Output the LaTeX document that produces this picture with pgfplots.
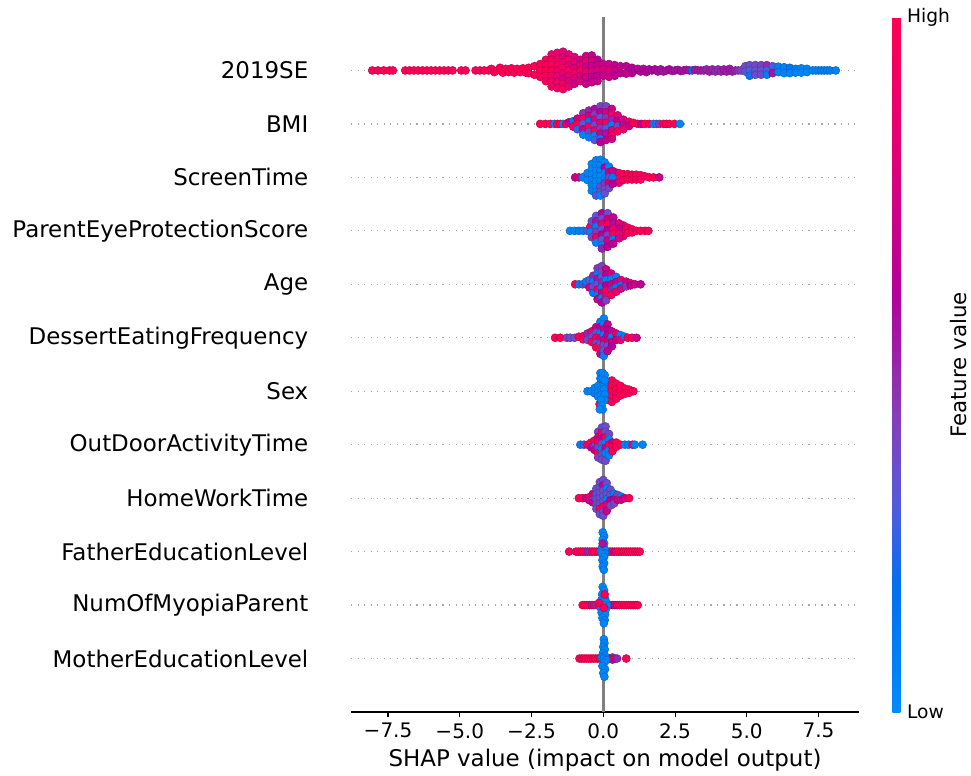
\documentclass[border=0pt]{standalone}
\usepackage{fontspec}
\setmainfont{DejaVu Sans}
\usepackage{pgfplots}
\pgfplotsset{compat=1.18}
% 1 px of the reference = 0.75pt here
\pgfplotsset{
  swarm/.style={scatter,only marks,scatter src=explicit,mark=*,mark size=3pt},
  colormap={shap}{rgb255(0cm)=(0,139,251); rgb255(18cm)=(0,112,240); rgb255(30cm)=(85,90,220);
    rgb255(43cm)=(135,60,185); rgb255(60cm)=(180,0,155); rgb255(80cm)=(225,0,120); rgb255(100cm)=(255,0,82)},
}
\begin{document}
\begin{tikzpicture}
\useasboundingbox (0,0) rectangle (728.25pt,581.25pt);
\begin{axis}[
  at={(263.25pt,47.25pt)}, anchor=south west,
  scale only axis, width=381pt, height=521.25pt,
  xmin=-8.79, xmax=8.91, ymin=-1, ymax=12,
  axis x line*=bottom, axis y line*=left,
  y axis line style={draw=none},
  x axis line style={line width=1pt,-},
  xtick={-7.5,-5,-2.5,0,2.5,5,7.5},
  xticklabels={−7.5,−5.0,−2.5,0.0,2.5,5.0,7.5},
  xtick style={black,line width=.8pt},
  tick align=outside, major tick length=4pt,
  xticklabel style={font=\fontsize{15}{16}\selectfont,yshift=-1pt},
  xlabel={SHAP value (impact on model output)},
  xlabel style={font=\fontsize{17.2}{18}\selectfont,yshift=-1pt},
  ytick={0,...,11},
  yticklabels={MotherEducationLevel,NumOfMyopiaParent,FatherEducationLevel,HomeWorkTime,OutDoorActivityTime,Sex,DessertEatingFrequency,Age,ParentEyeProtectionScore,ScreenTime,BMI,2019SE},
  yticklabel style={font=\fontsize{17.2}{18}\selectfont,anchor=east,xshift=-24.5pt},
  ytick style={draw=none},
  ymajorgrids,
  grid style={dash pattern=on .9pt off 4pt,gray!70,line width=.9pt},
  colormap name=shap,
  point meta min=0, point meta max=100,
  colorbar,
  colorbar style={
    at={(parent axis.south east)}, anchor=south west, xshift=16.5pt,
    width=6pt,
    axis line style={draw=none},
    ytick={0,100}, yticklabels={Low,High},
    ytick style={draw=none},
    yticklabel style={font=\fontsize{14}{15}\selectfont,xshift=1.5pt},
  },
]
\addplot[gray,line width=2.2pt,forget plot] coordinates {(0,-1) (0,12)};

% 2019SE
\addplot[swarm] table[meta=c,row sep=\\]{x y c\\
-8.05 11 98\\ -7.85 11 98\\ -7.65 11 98\\ -7.45 11 98\\ -7.33 11 98\\
-6.9 11 98\\ -6.75 11 98\\ -6.6 11 98\\ -6.45 11 98\\ -6.3 11 98\\ -6.15 11 98\\ -6.0 11 98\\ -5.85 11 98\\ -5.7 11 98\\ -5.55 11 98\\ -5.4 11 98\\ -5.25 11 98\\
-4.95 11 98\\ -4.8 11 98\\ -4.45 11 98\\ -4.3 11 98\\ -4.15 11 98\\
-4.0 11 98\\ -3.9 11.03 98\\ -3.8 10.97 98\\ -3.7 11 98\\ -3.6 11.05 98\\ -3.5 10.96 98\\ -3.4 11.03 98\\ -3.3 10.97 98\\ -3.2 11.04 98\\ -3.1 10.96 98\\ -3 11.03 96\\ -2.9 10.97 98\\ -2.8 11.04 98\\ -2.7 10.96 98\\
-2.6 11.05 98\\ -2.6 10.95 96\\ -2.4 11.08 98\\ -2.4 10.92 97\\ -2.2 11.12 96\\ -2.2 11 98\\ -2.2 10.88 95\\
-2 11.2 92\\ -2 11.1 96\\ -2 11 98\\ -2 10.9 96\\ -2 10.8 94\\
-1.8 11.3 88\\ -1.8 11.2 92\\ -1.8 11.1 96\\ -1.8 11 98\\ -1.8 10.9 92\\ -1.8 10.8 88\\ -1.8 10.7 94\\
-1.6 11.33 82\\ -1.6 11.22 90\\ -1.6 11.1 94\\ -1.6 11 90\\ -1.6 10.9 84\\ -1.6 10.78 92\\ -1.6 10.67 86\\
-1.4 11.35 84\\ -1.4 11.25 78\\ -1.4 11.15 88\\ -1.4 11.05 92\\ -1.4 10.95 84\\ -1.4 10.85 76\\ -1.4 10.75 90\\ -1.4 10.65 94\\
-1.2 11.3 80\\ -1.2 11.2 88\\ -1.2 11.1 78\\ -1.2 11 95\\ -1.2 10.9 82\\ -1.2 10.8 76\\ -1.2 10.7 84\\
-1 11.25 78\\ -1 11.15 84\\ -1 11.05 76\\ -1 10.95 90\\ -1 10.85 80\\ -1 10.75 72\\
-.8 11.2 74\\ -.8 11.1 80\\ -.8 11 92\\ -.8 10.9 74\\ -.8 10.8 78\\
-.6 11.27 72\\ -.6 11.17 82\\ -.6 11.07 70\\ -.6 10.97 86\\ -.6 10.87 74\\ -.6 10.75 68\\
-.4 11.28 66\\ -.4 11.18 74\\ -.4 11.08 68\\ -.4 10.98 78\\ -.4 10.88 66\\ -.4 10.78 70\\
-.2 11.2 64\\ -.2 11.1 70\\ -.2 11 76\\ -.2 10.9 66\\ -.2 10.8 68\\
0 11.12 68\\ 0 11.02 74\\ 0 10.9 68\\ .2 11.12 70\\ .2 11 76\\ .2 10.88 72\\
.4 11.1 66\\ .4 11 70\\ .4 10.9 64\\ .6 11.08 68\\ .6 10.95 64\\ .8 11.08 64\\ .8 10.94 68\\ 1 11.05 62\\ 1 10.95 64\\
1.1 11 60\\ 1.2 11.03 62\\ 1.3 10.98 60\\ 1.4 11.03 58\\ 1.5 10.97 60\\ 1.6 11.02 58\\ 1.7 11 58\\ 1.8 11.02 60\\ 1.9 10.98 56\\ 2 11.02 56\\ 2.1 10.98 54\\ 2.2 11 56\\ 2.3 11.02 58\\ 2.4 10.99 56\\ 2.5 11 54\\ 2.6 11.01 56\\ 2.7 10.99 56\\ 2.8 11 54\\ 2.9 11.01 56\\ 3 11 54\\ 3.1 11 18\\ 3.2 11.01 54\\ 3.3 11 52\\ 3.4 11 54\\ 3.5 11 52\\ 3.6 11.02 50\\ 3.7 10.98 52\\ 3.8 11.02 50\\ 3.9 10.98 50\\ 4 11.02 48\\ 4.1 10.98 50\\ 4.2 11.02 52\\ 4.3 10.98 52\\ 4.4 11.03 54\\ 4.5 10.98 52\\ 4.6 11 50\\ 4.7 11 46\\ 4.8 11 42\\
4.95 11.08 38\\ 4.95 10.98 34\\ 5.1 11.1 36\\ 5.1 11 30\\ 5.1 10.9 12\\ 5.3 11.1 38\\ 5.3 11 34\\ 5.3 10.92 36\\ 5.5 11.1 40\\ 5.5 11 32\\ 5.5 10.92 36\\ 5.7 11.1 48\\ 5.7 11 30\\ 5.7 10.92 8\\ 5.9 11.08 28\\ 5.9 10.95 55\\
6.1 11.07 8\\ 6.1 10.97 6\\ 6.3 11.06 8\\ 6.3 10.95 4\\ 6.5 11.05 14\\ 6.5 10.95 5\\ 6.7 11.03 10\\ 6.7 10.96 6\\ 6.9 11.04 4\\ 6.9 10.96 3\\ 7.1 11.03 4\\ 7.1 10.97 3\\ 7.3 11 3\\ 7.4 11 5\\ 7.5 11 6\\ 7.6 11 6\\ 7.7 11 8\\ 7.8 11 8\\ 7.9 11 10\\ 8.1 11 6\\
}; 

% BMI
\addplot[swarm] table[meta=c,row sep=\\]{x y c\\
-2.2 10 98\\ -2.02 10 98\\ -1.85 10 98\\ -1.7 10 8\\ -1.6 10 98\\ -1.5 10 98\\ -1.4 10 5\\ -1.3 10 98\\ -1.2 10.03 60\\
-1.05 10.05 12\\ -1.05 9.95 90\\ -.9 10.1 70\\ -.9 10 98\\ -.9 9.9 25\\
-.7 10.2 45\\ -.7 10.1 95\\ -.7 10 30\\ -.7 9.9 70\\ -.7 9.8 5\\
-.5 10.25 50\\ -.5 10.15 72\\ -.5 10.05 15\\ -.5 9.95 98\\ -.5 9.85 40\\ -.5 9.75 6\\
-.3 10.28 58\\ -.3 10.18 42\\ -.3 10.08 78\\ -.3 9.98 35\\ -.3 9.88 95\\ -.3 9.78 4\\ -.3 9.7 28\\
-.1 10.33 40\\ -.1 10.22 65\\ -.1 10.12 30\\ -.1 10.02 85\\ -.1 9.92 45\\ -.1 9.82 70\\ -.1 9.72 10\\ -.1 9.66 60\\
.1 10.33 38\\ .1 10.22 75\\ .1 10.12 45\\ .1 10.02 98\\ .1 9.92 32\\ .1 9.82 55\\ .1 9.7 68\\
.3 10.28 70\\ .3 10.18 90\\ .3 10.08 50\\ .3 9.98 8\\ .3 9.88 78\\ .3 9.78 98\\ .3 9.72 72\\
.5 10.16 82\\ .5 10.06 65\\ .5 9.96 40\\ .5 9.86 95\\ .7 10.08 75\\ .7 9.98 55\\ .7 9.9 90\\
.9 10.04 88\\ .9 9.96 70\\ 1.05 10.02 98\\ 1.2 10 98\\ 1.32 10 65\\ 1.45 10 98\\ 1.6 10 98\\ 1.75 10 30\\ 1.85 10 8\\ 1.95 10 45\\ 2.1 10 98\\ 2.2 10 98\\ 2.3 10 98\\ 2.48 10 98\\ 2.67 10 4\\
};

% ScreenTime
\addplot[swarm] table[meta=c,row sep=\\]{x y c\\
.4 9.1 80\\ .4 9 92\\ .4 8.9 75\\ .55 9.08 90\\ .55 8.98 98\\ .55 8.9 85\\ .7 9.06 98\\ .7 8.95 90\\ .85 9.06 95\\ .85 8.96 98\\ 1 9.05 98\\ 1 8.96 98\\ 1.15 9.05 98\\ 1.15 8.96 92\\ 1.3 9.04 98\\ 1.3 8.96 98\\ 1.45 9.02 92\\ 1.6 9 98\\ 1.75 9 98\\ 1.95 9 72\\
-.98 9 70\\ -.85 9 72\\ -.72 9 6\\
-.55 9.08 5\\ -.55 8.95 3\\ -.4 9.25 4\\ -.4 9.15 3\\ -.4 9.05 4\\ -.4 8.95 3\\ -.4 8.85 5\\ -.4 8.75 4\\
-.25 9.32 3\\ -.25 9.22 4\\ -.25 9.12 3\\ -.25 9.02 4\\ -.25 8.92 3\\ -.25 8.82 4\\ -.25 8.72 3\\ -.25 8.66 30\\
-.1 9.33 4\\ -.1 9.23 3\\ -.1 9.13 4\\ -.1 9.03 3\\ -.1 8.93 4\\ -.1 8.83 36\\ -.1 8.73 38\\ -.1 8.66 3\\
.05 9.28 5\\ .05 9.18 60\\ .05 9.08 4\\ .05 8.98 10\\ .05 8.88 45\\ .05 8.78 36\\ .05 8.7 34\\
.2 9.2 6\\ .2 9.1 70\\ .2 9 40\\ .2 8.9 78\\ .2 8.8 38\\ .32 9.12 70\\ .32 9 12\\ .32 8.88 60\\
};

% ParentEyeProtectionScore
\addplot[swarm] table[meta=c,row sep=\\]{x y c\\
.7 8.1 82\\ .7 8 92\\ .7 7.9 80\\ .85 8.06 92\\ .85 7.96 98\\ 1 8.03 98\\ 1 7.97 95\\ 1.15 8 98\\ 1.3 8 98\\ 1.45 8 98\\ 1.57 8 98\\
-1.16 8 5\\ -1 8 4\\ -.85 8 8\\ -.7 8 6\\ -.55 8 30\\ -.45 8.08 98\\ -.45 7.98 6\\
-.4 8.18 35\\ -.4 7.88 40\\ -.25 8.28 30\\ -.25 8.18 55\\ -.25 8.08 8\\ -.25 7.98 45\\ -.25 7.88 90\\ -.25 7.78 5\\
-.05 8.33 60\\ -.05 8.23 38\\ -.05 8.13 85\\ -.05 8.03 36\\ -.05 7.93 60\\ -.05 7.83 30\\ -.05 7.73 4\\ -.05 7.67 50\\
.15 8.33 38\\ .15 8.22 70\\ .15 8.12 98\\ .15 8.02 60\\ .15 7.92 40\\ .15 7.82 72\\ .15 7.7 62\\
.35 8.25 70\\ .35 8.14 55\\ .35 8.04 90\\ .35 7.94 98\\ .35 7.84 8\\ .35 7.76 65\\
.55 8.14 80\\ .55 8.04 68\\ .55 7.94 90\\ .55 7.86 75\\
};

% Age
\addplot[swarm] table[meta=c,row sep=\\]{x y c\\
-.98 7 98\\ -.85 7 10\\ -.72 7 25\\ -.6 7 45\\ -.6 7.05 8\\
-.48 7.08 30\\ -.48 6.94 72\\ -.35 7.16 50\\ -.35 7.06 8\\ -.35 6.96 40\\ -.35 6.84 12\\
-.2 7.3 45\\ -.2 7.2 8\\ -.2 7.1 55\\ -.2 7 30\\ -.2 6.9 85\\ -.2 6.8 6\\ -.2 6.72 70\\
-.05 7.34 40\\ -.05 7.24 38\\ -.05 7.14 30\\ -.05 7.04 50\\ -.05 6.94 10\\ -.05 6.84 68\\ -.05 6.74 5\\ -.05 6.66 60\\
.1 7.28 72\\ .1 7.18 65\\ .1 7.08 5\\ .1 6.98 60\\ .1 6.88 98\\ .1 6.78 85\\ .1 6.7 40\\
.28 7.2 75\\ .28 7.1 6\\ .28 7 70\\ .28 6.9 50\\ .28 6.8 98\\ .45 7.14 8\\ .45 7.04 68\\ .45 6.94 10\\ .45 6.86 90\\
.62 7.08 82\\ .62 6.98 8\\ .62 6.92 75\\ .8 7.05 70\\ .8 6.96 45\\ .95 7.02 85\\ .95 6.98 65\\ 1.1 7 70\\ 1.3 7 65\\
};

% DessertEatingFrequency
\addplot[swarm] table[meta=c,row sep=\\]{x y c\\
-1.68 6 98\\ -1.5 6 98\\ -1.27 6 38\\ -1.15 6 36\\ -1 6 38\\ -.85 6.02 98\\ -.7 6.03 85\\ -.7 5.97 98\\
-.55 6.08 50\\ -.55 5.96 35\\ -.4 6.12 85\\ -.4 6.02 36\\ -.4 5.92 98\\ -.25 6.2 70\\ -.25 6.1 35\\ -.25 6 96\\ -.25 5.9 38\\ -.25 5.82 98\\
-.1 6.3 5\\ -.1 6.2 60\\ -.1 6.1 8\\ -.1 6 75\\ -.1 5.9 38\\ -.1 5.8 98\\ -.1 5.7 70\\
.02 6.36 4\\ .02 6.26 5\\ .02 6.16 70\\ .02 6.06 6\\ .02 5.96 72\\ .02 5.86 40\\ .02 5.76 30\\ .02 5.66 6\\
.15 6.25 68\\ .15 6.15 60\\ .15 6.05 65\\ .15 5.95 70\\ .15 5.85 38\\ .15 5.75 66\\
.3 6.12 68\\ .3 6.02 8\\ .3 5.92 72\\ .3 5.84 60\\ .45 6.08 85\\ .45 5.96 65\\ .6 6.05 6\\ .6 5.96 90\\ .75 6.02 5\\ .85 6 98\\ 1 6 92\\ 1.16 6 70\\
};

% Sex
\addplot[swarm] table[meta=c,row sep=\\]{x y c\\
.15 5.18 98\\ .15 5.08 98\\ .15 4.96 98\\ .15 4.84 98\\ .3 5.2 98\\ .3 5.1 98\\ .3 5 98\\ .3 4.9 98\\ .3 4.8 98\\ .45 5.14 98\\ .45 5.04 98\\ .45 4.94 98\\ .45 4.86 98\\ .6 5.1 98\\ .6 5 98\\ .6 4.92 98\\ .75 5.05 98\\ .75 4.95 98\\ .9 5.03 98\\ .9 4.97 98\\ 1.05 5 98\\
-.13 4.76 98\\ -.02 4.84 98\\ -.1 5.14 98\\
-.55 5 4\\ -.42 5 4\\ -.3 5.06 4\\ -.3 4.96 5\\ -.18 5.1 4\\ -.18 5 5\\ -.18 4.9 4\\
-.1 5.34 3\\ -.1 5.24 4\\ -.02 5.34 3\\ -.02 5.24 4\\ -.06 5.04 3\\ -.06 4.94 4\\ .02 5.14 5\\ .02 5.04 4\\ .05 4.94 4\\ .04 4.84 4\\ -.08 4.84 4\\ -.06 4.74 4\\ -.02 4.66 4\\ -.12 4.66 3\\ .05 5.3 4\\ .05 5.2 3\\
};

% OutDoorActivityTime
\addplot[swarm] table[meta=c,row sep=\\]{x y c\\
-.8 4 10\\ -.67 4 25\\ -.55 4 98\\ -.42 4.04 98\\ -.42 3.95 60\\ -.3 4.08 98\\ -.3 3.98 40\\ -.3 3.9 70\\
-.18 4.24 40\\ -.18 4.14 70\\ -.18 4.04 98\\ -.18 3.94 38\\ -.18 3.84 98\\ -.18 3.76 40\\
-.05 4.32 36\\ -.05 4.22 98\\ -.05 4.12 60\\ -.05 4.02 36\\ -.05 3.92 8\\ -.05 3.82 40\\ -.05 3.72 38\\
.08 4.34 35\\ .08 4.24 36\\ .08 4.14 98\\ .08 4.04 6\\ .08 3.94 70\\ .08 3.84 5\\ .08 3.7 36\\
.2 4.2 40\\ .2 4.1 6\\ .2 4 98\\ .2 3.9 5\\ .2 3.8 5\\ .32 4.04 70\\ .32 3.96 98\\ .32 3.88 98\\
.45 4.04 98\\ .45 3.96 98\\ .6 4 98\\ .75 4 5\\ .88 4 6\\ 1.02 4 98\\ 1.1 4 5\\ 1.37 4 3\\
};

% HomeWorkTime
\addplot[swarm] table[meta=c,row sep=\\]{x y c\\
-.85 3 98\\ -.72 3 98\\ -.6 3 70\\ -.48 3.02 95\\ -.48 2.96 72\\ -.36 3.08 70\\ -.36 2.96 35\\ -.36 2.92 65\\
-.24 3.18 35\\ -.24 3.08 36\\ -.24 2.98 34\\ -.24 2.88 38\\ -.24 2.8 35\\
-.12 3.3 36\\ -.12 3.2 35\\ -.12 3.1 34\\ -.12 3 36\\ -.12 2.9 35\\ -.12 2.8 98\\ -.12 2.7 35\\
0 3.34 36\\ 0 3.24 70\\ 0 3.14 35\\ 0 3.04 34\\ 0 2.94 36\\ 0 2.84 98\\ 0 2.74 35\\ 0 2.67 36\\
.12 3.28 35\\ .12 3.18 6\\ .12 3.08 36\\ .12 2.98 6\\ .12 2.88 75\\ .12 2.76 72\\
.25 3.16 35\\ .25 3.06 36\\ .25 2.96 60\\ .25 2.86 38\\ .38 3.08 8\\ .38 2.98 60\\ .38 2.9 40\\
.5 3.06 40\\ .5 2.97 70\\ .62 3.03 6\\ .62 2.97 72\\ .75 3 70\\ .9 3 98\\
};

% FatherEducationLevel
\addplot[swarm] table[meta=c,row sep=\\]{x y c\\
-1.19 2 98\\ -.95 2 98\\ -.87 2 98\\ -.79 2 98\\ -.71 2 98\\ -.63 2 98\\ -.55 2 50\\ -.47 2 45\\ -.39 2 98\\ -.31 2 98\\ -.23 2 98\\ -.15 2 98\\
.15 2 98\\ .23 2 98\\ .31 2 98\\ .39 2 70\\ .47 2 98\\ .55 2 98\\ .63 2 98\\ .71 2 98\\ .79 2 98\\ .87 2 98\\ .95 2 98\\ 1.03 2 98\\ 1.11 2 98\\ 1.19 2 98\\ 1.27 2 98\\
-.02 2.36 3\\ .03 2.29 4\\ -.02 2.22 4\\ .03 2.15 3\\ -.04 2.08 4\\ .05 2.04 3\\ -.08 2 3\\ .06 1.97 5\\ -.04 1.96 4\\ .03 1.9 3\\ -.03 1.84 4\\ .03 1.78 4\\ -.02 1.72 3\\ .02 1.66 4\\ -.02 2.15 55\\
};

% NumOfMyopiaParent
\addplot[swarm] table[meta=c,row sep=\\]{x y c\\
-.72 1 98\\ -.64 1 98\\ -.56 1 98\\ -.48 1 98\\ -.4 1 50\\ -.32 1 98\\ -.24 1 45\\ -.16 1 98\\
.16 1 98\\ .24 1 98\\ .32 1 50\\ .4 1 55\\ .48 1 98\\ .56 1 98\\ .64 1 98\\ .72 1 98\\ .8 1 98\\ .88 1 98\\ .96 1 98\\ 1.04 1 98\\ 1.12 1 98\\ 1.2 1 98\\
-.02 1.34 3\\ .03 1.27 4\\ -.04 1.2 4\\ .05 1.14 3\\ -.07 1.09 4\\ .09 1.07 5\\ -.11 1.02 4\\ .12 1 4\\ -.08 .94 5\\ .08 .91 3\\ -.06 .86 4\\ .06 .82 4\\ -.03 .76 3\\ .05 .72 5\\ .02 .66 4\\ .02 1.07 4\\ 0 1.0 6\\
-.15 1.04 98\\ .02 .95 98\\ .05 1.2 98\\
};

% MotherEducationLevel
\addplot[swarm] table[meta=c,row sep=\\]{x y c\\
-.83 0 98\\ -.75 0 98\\ -.67 0 98\\ -.59 0 98\\ -.51 0 98\\ -.43 0 98\\ -.35 0 98\\ -.27 0 98\\ -.19 0 98\\ -.11 0 98\\ .8 0 98\\
.4 0 50\\ .32 .02 45\\ .32 -.02 55\\ .2 0 80\\ .48 0 50\\ .14 0 98\\
.02 .36 3\\ .04 .29 4\\ 0 .22 3\\ .05 .17 4\\ -.01 .1 4\\ .06 .05 4\\ -.06 .02 4\\ .02 0 5\\ .1 -.03 4\\ .03 -.08 3\\ -.03 -.14 4\\ .06 -.2 4\\ 0 -.27 3\\ .04 -.34 4\\
};
\end{axis}
\node[rotate=90,font=\fontsize{16}{17}\selectfont] at (719pt,307.5pt) {Feature value};
\end{tikzpicture}
\end{document}
